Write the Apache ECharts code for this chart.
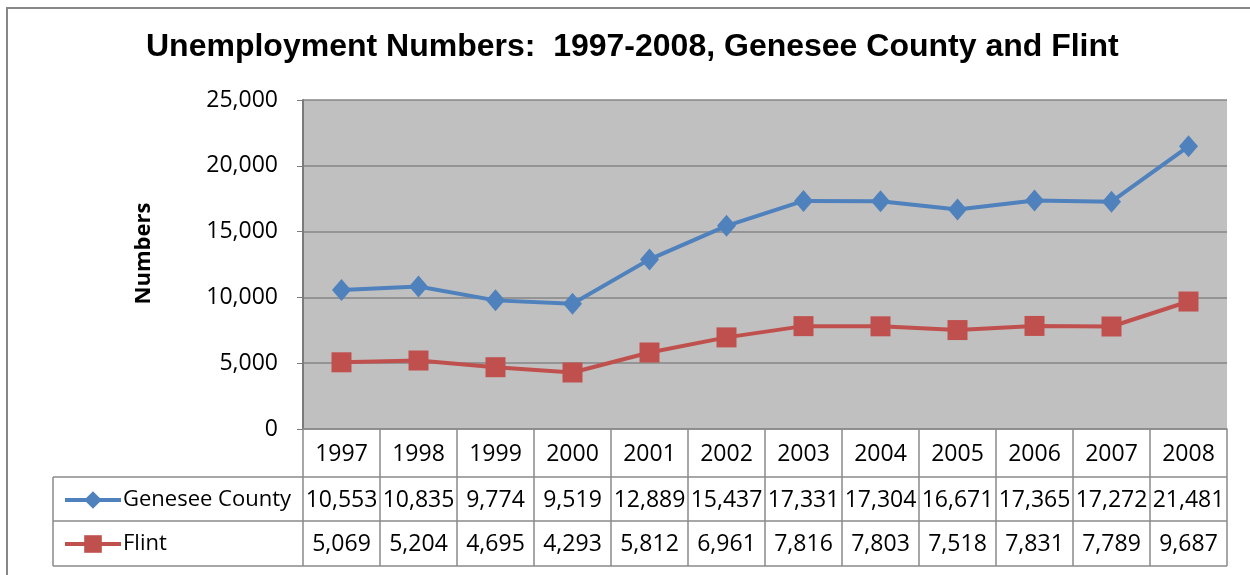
<!DOCTYPE html>
<html>
<head>
<meta charset="utf-8">
<script src="https://cdn.jsdelivr.net/npm/echarts@6/dist/echarts.min.js"></script>
<style>
  html, body { margin: 0; padding: 0; background: #fff; }
  #main { width: 1250px; height: 575px; }
</style>
</head>
<body>
<div id="main"></div>
<script>
var years = ['1997','1998','1999','2000','2001','2002','2003','2004','2005','2006','2007','2008'];
var genesee = [10553,10835,9774,9519,12889,15437,17331,17304,16671,17365,17272,21481];
var flint = [5069,5204,4695,4293,5812,6961,7816,7803,7518,7831,7789,9687];

var lineGray = '#8a8a8a';
var gridL = 303, gridR = 1227, gridT = 100, gridB = 429;
var colW = (gridR - gridL) / years.length;
var rowY = [477, 521, 566];
var tableL = 53;
var numFont = 'Open Sans';

function fmt(v) {
    return v.toLocaleString('en-US');
}

//数据表格
function buildTable() {
    var els = [];
    // 外框
    els.push({
        type: 'rect', shape: {x: 7, y: 8, width: 1260, height: 600},
        style: {fill: null, stroke: '#878787', lineWidth: 2}, z: 0
    });
    for (var r = 0; r < rowY.length; r++) {
        els.push({
            type: 'line', shape: {x1: tableL, y1: rowY[r], x2: gridR, y2: rowY[r]},
            style: {stroke: lineGray, lineWidth: 1.5}, z: 5
        });
    }
    for (var c = 0; c <= years.length; c++) {
        var x = gridL + c * colW;
        els.push({
            type: 'line', shape: {x1: x, y1: gridB, x2: x, y2: rowY[2]},
            style: {stroke: lineGray, lineWidth: 1.5}, z: 5
        });
    }
    els.push({
        type: 'line', shape: {x1: tableL, y1: rowY[0], x2: tableL, y2: rowY[2]},
        style: {stroke: lineGray, lineWidth: 1.5}, z: 5
    });
    var rows = [genesee, flint];
    for (var k = 0; k < rows.length; k++) {
        for (var i = 0; i < years.length; i++) {
            els.push({
                type: 'text',
                x: gridL + (i + 0.5) * colW,
                y: (rowY[k] + rowY[k + 1]) / 2 + 1,
                style: {
                    text: fmt(rows[k][i]), fill: '#000',
                    font: '23px "' + numFont + '"',
                    align: 'center', verticalAlign: 'middle'
                }, z: 6
            });
        }
    }
    return els;
}

var chart = echarts.init(document.getElementById('main'));
var option = {
    animation: false,
    title: {
        text: 'Unemployment Numbers:  1997-2008, Genesee County and Flint',
        left: 141,
        top: 26,
        textStyle: {
            fontFamily: 'Liberation Sans',
            fontWeight: 'bold',
            fontSize: 32,
            color: '#000'
        }
    },
    legend: {
        orient: 'vertical',
        left: 58,
        top: 484,
        itemWidth: 56,
        itemHeight: 22,
        itemGap: 22,
        data: ['Genesee County', 'Flint'],
        lineStyle: {width: 4},
        textStyle: {fontFamily: numFont, fontSize: 22, lineHeight: 22, color: '#000', padding: [0, 0, 0, -3]}
    },
    grid: {
        left: gridL,
        right: 1250 - gridR,
        top: gridT,
        bottom: 575 - gridB,
        show: true,
        backgroundColor: '#c0c0c0',
        borderWidth: 0
    },
    xAxis: {
        type: 'category',
        data: years,
        boundaryGap: true,
        axisLine: {lineStyle: {color: lineGray, width: 1.5}},
        axisTick: {show: false},
        axisLabel: {
            interval: 0, margin: 14, fontFamily: numFont, fontSize: 23, color: '#000'
        }
    },
    yAxis: {
        type: 'value',
        min: 0,
        max: 25000,
        interval: 5000,
        name: 'Numbers',
        nameLocation: 'middle',
        nameRotate: 90,
        nameGap: 148,
        nameTextStyle: {
            fontFamily: numFont, fontWeight: 'bold', fontSize: 22, color: '#000',
            padding: [0, 0, 0, 22]
        },
        axisLine: {show: true, lineStyle: {color: '#7a7a7a', width: 2}},
        axisTick: {show: true, length: 6, lineStyle: {color: '#7a7a7a'}},
        axisLabel: {
            margin: 25,
            fontFamily: numFont, fontSize: 23, color: '#000',
            formatter: function (v) { return fmt(v); }
        },
        splitLine: {lineStyle: {color: '#868686', width: 1.5}}
    },
    series: [
        {
            name: 'Genesee County',
            type: 'line',
            data: genesee,
            symbol: 'diamond',
            symbolSize: [19, 22],
            color: '#4f81bd',
            lineStyle: {width: 4, color: '#4f81bd'},
            itemStyle: {color: '#4f81bd'}
        },
        {
            name: 'Flint',
            type: 'line',
            data: flint,
            symbol: 'rect',
            symbolSize: 20,
            color: '#c0504d',
            lineStyle: {width: 4, color: '#c0504d'},
            itemStyle: {color: '#c0504d'}
        }
    ],
    graphic: buildTable()
};
chart.setOption(option);
</script>
</body>
</html>
